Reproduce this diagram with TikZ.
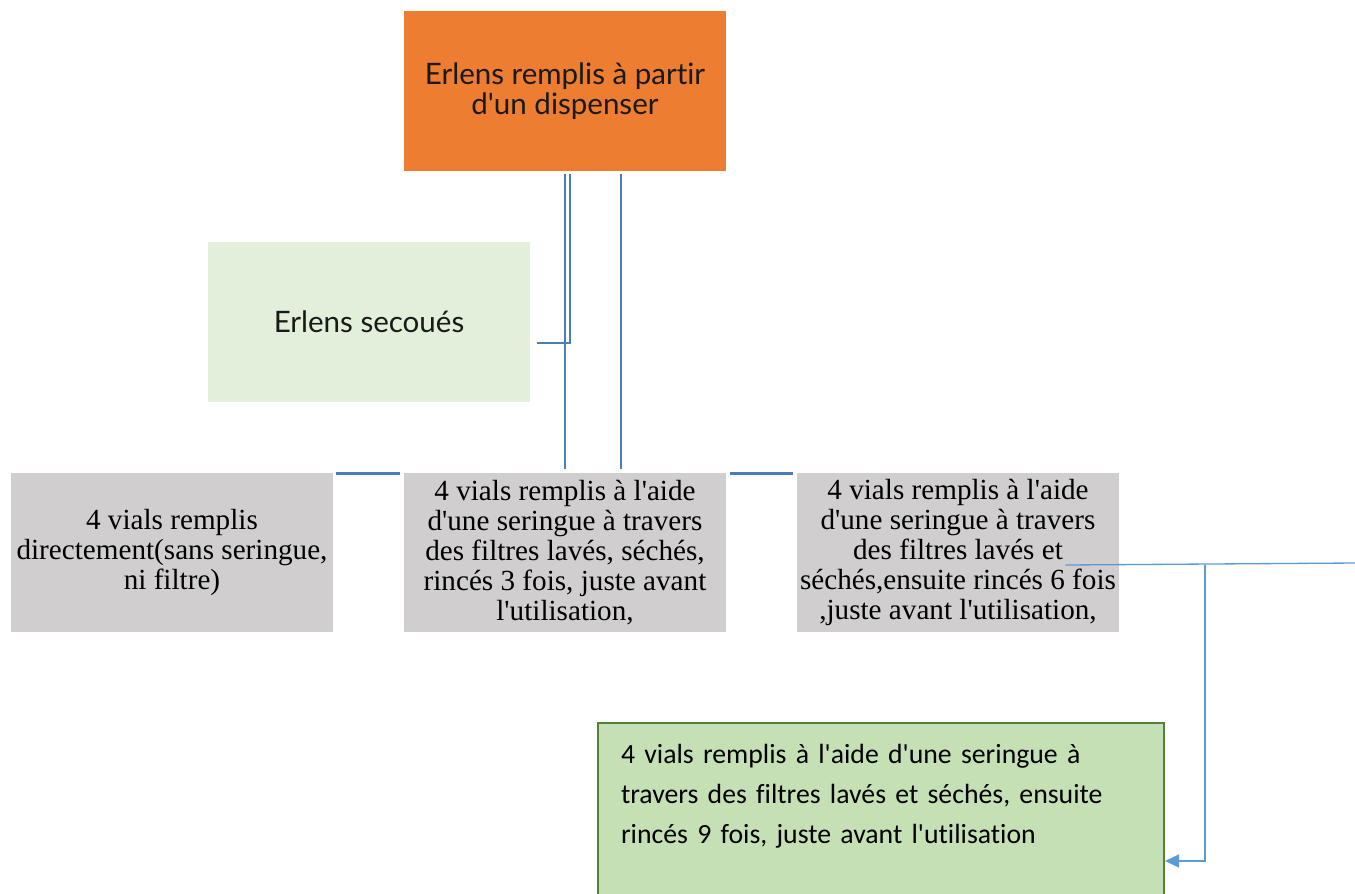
\documentclass[tikz,border=0pt]{standalone}
\usepackage{fontspec}
\usepackage{xcolor}
\usepackage{tikz}
\usetikzlibrary{arrows.meta}
\setmainfont{Liberation Serif}[Ligatures=TeXOff]
\newfontfamily\gillfont{Lato}[Ligatures={TeXOff,NoCommon}]
\newfontfamily\calfont{Carlito}[Ligatures={TeXOff,NoCommon}]
\definecolor{orangebox}{HTML}{ED7D31}
\definecolor{vertclair}{HTML}{E2EFDA}
\definecolor{grisbox}{HTML}{D0CECE}
\definecolor{vertbox}{HTML}{C5E0B4}
\definecolor{vertbord}{HTML}{548235}
\definecolor{bleulien}{HTML}{4A7EBB}
\definecolor{bleufin}{HTML}{5B9BD5}

\begin{document}
\begin{tikzpicture}[x=0.02cm,y=-0.02cm,
  etape/.style={rectangle,minimum width=6.44cm,minimum height=3.2cm,inner sep=0pt,align=center},
  titre/.style={etape,fill=orangebox,text=black!90,font=\gillfont\fontsize{16.8pt}{17.2pt}\selectfont},
  secoue/.style={etape,fill=vertclair,text=black!90,font=\gillfont\fontsize{16.8pt}{17.2pt}\selectfont},
  vial/.style={etape,fill=grisbox,minimum height=3.18cm,font=\fontsize{16.6pt}{17pt}\selectfont},
  dernier/.style={rectangle,draw=vertbord,line width=1.2pt,fill=vertbox,minimum width=11.32cm,
    minimum height=3.44cm,align=left,text width=10.4cm,font=\calfont\fontsize{15.8pt}{22.8pt}\selectfont},
  lien/.style={bleulien,line width=1.4pt,shorten <=0.06cm,shorten >=0.08cm},
  fin/.style={bleufin,line width=0.75pt},
  fleche/.style={fin,-{Triangle[length=0.28cm,width=0.26cm]}}]
\useasboundingbox (0,0) rectangle (1355,893);
% boites
\node[titre] (disp) at (565,91) {Erlens remplis à partir\\d'un dispenser};
\node[secoue] (secoues) at (369,322) {Erlens secoués};
\node[vial] (vial1) at (172,552.5) {4 vials remplis\\directement(sans seringue,\\ni filtre)};
\node[vial] (vial2) at (565,552.5) {4 vials remplis à l'aide\\d'une seringue à travers\\des filtres lavés, séchés,\\rincés 3 fois, juste avant\\l'utilisation,};
\node[vial] (vial3) at (958,552.5) {4 vials remplis à l'aide\\d'une seringue à travers\\des filtres lavés et\\séchés,ensuite rincés 6 fois\\,juste avant l'utilisation,};
\node[dernier] (final) at (881,809) {4 vials remplis à l'aide d'une seringue à\\travers des filtres lavés et séchés, ensuite\\rincés 9 fois, juste avant l'utilisation\\[-6pt] \mbox{}};
% liens
\draw[lien] (disp.south) -- (vial2.north);
\draw[lien] ([xshift=0.1cm]disp.south) |- ([shift={(0.06cm,-0.42cm)}]secoues.east);
\draw[lien] ([xshift=1.12cm]disp.south) -- ([xshift=1.12cm]vial2.north);
\draw[lien,shorten <=0.06cm] ([yshift=-0.02cm]vial1.north east) -- ([yshift=-0.02cm]vial2.north west);
\draw[lien,shorten <=0.08cm] ([yshift=-0.02cm]vial2.north east) -- ([yshift=-0.02cm]vial3.north west);
\coordinate (bord) at (1355,563);
\coordinate (coude) at (1205,565);
\draw[fin] ([shift={(-1.08cm,-0.25cm)}]vial3.east) -- (bord);
\draw[fleche] (coude) |- ([yshift=-1.04cm]final.east);
\end{tikzpicture}
\end{document}
